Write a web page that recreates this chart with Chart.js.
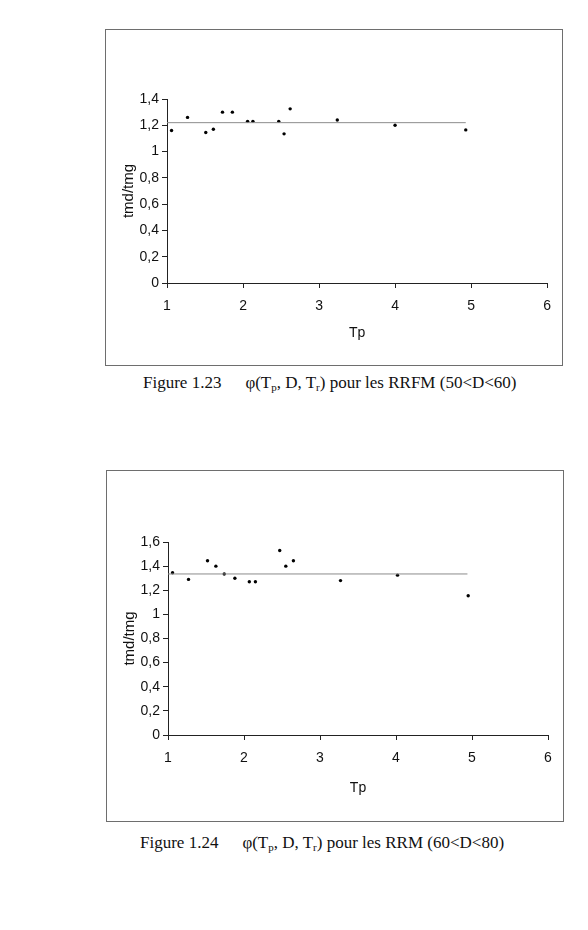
<!DOCTYPE html>
<html>
  <head>
    <meta charset="utf-8" />
    <title>Figures 1.23 - 1.24</title>
    <script src="https://cdn.jsdelivr.net/npm/chart.js@4/dist/chart.umd.min.js"></script>
    <style>
      body { margin: 0; background: #fff; width: 588px; height: 930px; position: relative; }
      .frame { position: absolute; box-sizing: border-box; border: 1px solid #6e6e6e; }
      .frame canvas { position: absolute; left: 0; top: 0; }
      .caption {
        position: absolute;
        font-family: "Liberation Serif", "Times New Roman", serif;
        font-size: 17px;
        line-height: 17px;
        white-space: nowrap;
        color: #111;
      }
      .caption sub { font-size: 11px; vertical-align: -3px; line-height: 0; }
      .gap { display: inline-block; width: 24px; }
    </style>
  </head>
  <body>
    <div class="frame" style="left:105px; top:29px; width:458px; height:337px">
      <canvas id="chart1" width="455" height="334"></canvas>
    </div>
    <div class="caption" style="left:143px; top:374px">
      Figure 1.23<span class="gap"></span>&phi;(T<sub>p</sub>, D, T<sub>r</sub>) pour les RRFM (50&lt;D&lt;60)
    </div>

    <div class="frame" style="left:106px; top:470px; width:458px; height:352px">
      <canvas id="chart2" width="455" height="349"></canvas>
    </div>
    <div class="caption" style="left:140px; top:834px">
      Figure 1.24<span class="gap"></span>&phi;(T<sub>p</sub>, D, T<sub>r</sub>) pour les RRM (60&lt;D&lt;80)
    </div>

    <script>
      // Figure 1.23 - RRFM (50<D<60)
      const tp1 = [1.06, 1.27, 1.51, 1.61, 1.73, 1.86, 2.06, 2.13, 2.47, 2.54, 2.62, 3.24, 4.0, 4.93];
      const ratio1 = [1.16, 1.26, 1.145, 1.17, 1.3, 1.3, 1.23, 1.23, 1.23, 1.135, 1.325, 1.24, 1.2, 1.165];
      const mean1 = 1.22;
      const meanX1 = [1, 4.93];

      // Figure 1.24 - RRM (60<D<80)
      const tp2 = [1.06, 1.27, 1.52, 1.63, 1.74, 1.88, 2.07, 2.15, 2.47, 2.55, 2.65, 3.27, 4.02, 4.95];
      const ratio2 = [1.345, 1.29, 1.445, 1.4, 1.335, 1.3, 1.27, 1.27, 1.53, 1.4, 1.445, 1.28, 1.325, 1.155];
      const mean2 = 1.335;
      const meanX2 = [1, 4.94];

      const xTicks = [1, 2, 3, 4, 5, 6];
      const yTicks1 = [0, 0.2, 0.4, 0.6, 0.8, 1, 1.2, 1.4];
      const yTicks2 = [0, 0.2, 0.4, 0.6, 0.8, 1, 1.2, 1.4, 1.6];

      const xTitle = "Tp";
      const yTitle = "tmd/tmg";

      const fontFamily = "'Liberation Sans', Arial, sans-serif";
      const tickFont = { family: fontFamily, size: 14 };

      function fmt(v) {
        return String(Math.round(v * 10) / 10).replace(".", ",");
      }

      function makeChart(id, xs, ys, mean, meanX, yTicks, box) {
        const points = xs.map((x, i) => ({ x: x, y: ys[i] }));
        const line = meanX.map((x) => ({ x: x, y: mean }));
        return new Chart(document.getElementById(id), {
          type: "scatter",
          data: {
            datasets: [
              {
                data: line,
                showLine: true,
                borderColor: "#8c8c8c",
                borderWidth: 1,
                pointRadius: 0,
              },
              {
                data: points,
                pointRadius: 1.7,
                pointBorderWidth: 0,
                pointBackgroundColor: "#000",
                pointBorderColor: "#000",
              },
            ],
          },
          options: {
            responsive: false,
            animation: false,
            devicePixelRatio: 1,
            layout: { padding: { left: 0, top: box.top, right: box.right, bottom: 0 } },
            plugins: { legend: { display: false }, tooltip: { enabled: false } },
            scales: {
              x: {
                type: "linear",
                min: xTicks[0],
                max: xTicks[xTicks.length - 1],
                afterBuildTicks: (s) => { s.ticks = xTicks.map((v) => ({ value: v })); },
                afterFit: (s) => { s.height = box.xHeight; },
                grid: { drawOnChartArea: false, tickLength: 5, color: "#222" },
                border: { color: "#222", width: 1 },
                ticks: { font: tickFont, color: "#111", padding: 10, maxRotation: 0 },
                title: {
                  display: true,
                  text: xTitle,
                  font: { family: fontFamily, size: 14 },
                  color: "#111",
                  padding: { top: 0, bottom: box.xTitlePad },
                },
              },
              y: {
                type: "linear",
                min: 0,
                max: yTicks[yTicks.length - 1],
                afterBuildTicks: (s) => { s.ticks = yTicks.map((v) => ({ value: v })); },
                afterFit: (s) => { s.width = box.yWidth; },
                grid: { drawOnChartArea: false, tickLength: 5, color: "#222" },
                border: { color: "#222", width: 1 },
                ticks: { font: tickFont, color: "#111", padding: 3, callback: (v) => fmt(v) },
                title: {
                  display: true,
                  text: yTitle,
                  font: { family: fontFamily, size: 15 },
                  color: "#111",
                  padding: { top: 14, bottom: 0 },
                },
              },
            },
          },
        });
      }

      makeChart("chart1", tp1, ratio1, mean1, meanX1, yTicks1, {
        top: 69, right: 13, yWidth: 61, xHeight: 81, xTitlePad: 22,
      });
      makeChart("chart2", tp2, ratio2, mean2, meanX2, yTicks2, {
        top: 71, right: 14, yWidth: 61, xHeight: 85, xTitlePad: 23,
      });
    </script>
  </body>
</html>
